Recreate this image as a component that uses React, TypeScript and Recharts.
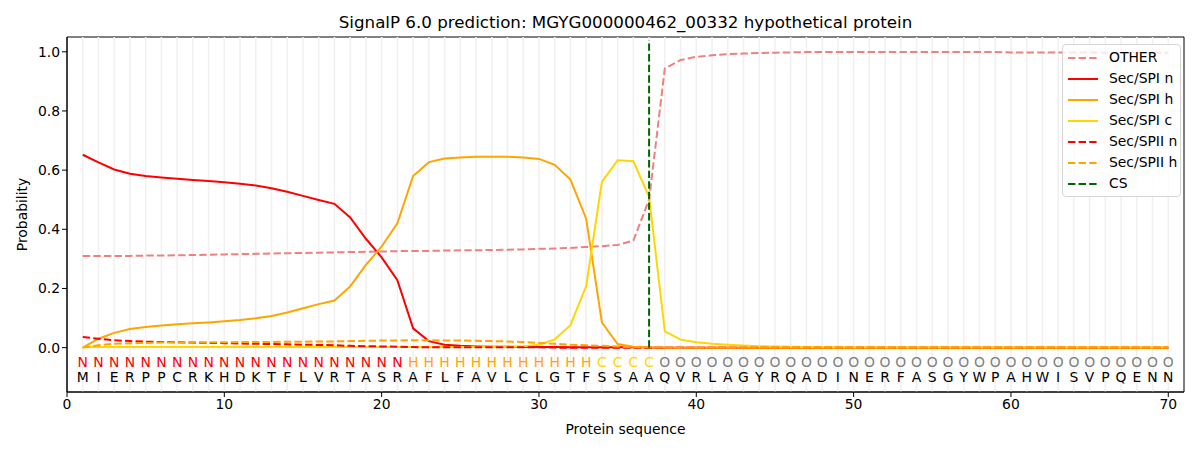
import React from 'react'
import { ComposedChart, Line, XAxis, YAxis, ReferenceLine, ReferenceArea } from 'recharts'

// sequence and per-residue region letters
const residues = 'MIERPPCRKHDKTFLVRTASRAFLFAVLCLGTFSSAAQVRLAGYRQADINERFASGYWPAHWISVPQENN'.split('')
const regions = 'NNNNNNNNNNNNNNNNNNNNNHHHHHHHHHHHHCCCCOOOOOOOOOOOOOOOOOOOOOOOOOOOOOOOOO'.split('')

const otherProb = [
  0.310, 0.310, 0.310, 0.310, 0.311, 0.311, 0.312, 0.313, 0.314, 0.315,
  0.316, 0.317, 0.318, 0.319, 0.320, 0.321, 0.322, 0.323, 0.324, 0.325,
  0.326, 0.327, 0.327, 0.328, 0.329, 0.329, 0.330, 0.331, 0.332, 0.334,
  0.335, 0.337, 0.340, 0.343, 0.347, 0.362, 0.500, 0.944, 0.972, 0.983,
  0.988, 0.992, 0.994, 0.996, 0.997, 0.998, 0.999, 0.999, 0.999, 0.999,
  0.999, 0.999, 0.999, 0.999, 0.999, 0.999, 0.999, 0.999, 0.999, 0.998,
  0.998, 0.998, 0.998, 0.998, 0.998, 0.997, 0.997, 0.997, 0.997, 0.997,
]
const spiN = [
  0.652, 0.626, 0.602, 0.588, 0.580, 0.575, 0.571, 0.567, 0.563, 0.559,
  0.554, 0.548, 0.539, 0.527, 0.513, 0.499, 0.486, 0.440, 0.368, 0.305,
  0.228, 0.065, 0.022, 0.010, 0.006, 0.004, 0.003, 0.003, 0.002, 0.002,
  0.002, 0.001, 0.001, 0.001, 0.001, 0.001, 0.000, 0.000, 0.000, 0.000,
  0.000, 0.000, 0.000, 0.000, 0.000, 0.000, 0.000, 0.000, 0.000, 0.000,
  0.000, 0.000, 0.000, 0.000, 0.000, 0.000, 0.000, 0.000, 0.000, 0.000,
  0.000, 0.000, 0.000, 0.000, 0.000, 0.000, 0.000, 0.000, 0.000, 0.000,
]
const spiH = [
  0.000, 0.030, 0.050, 0.063, 0.070, 0.075, 0.079, 0.082, 0.085, 0.089,
  0.093, 0.099, 0.107, 0.119, 0.133, 0.147, 0.159, 0.207, 0.280, 0.342,
  0.420, 0.580, 0.627, 0.639, 0.643, 0.645, 0.645, 0.645, 0.643, 0.638,
  0.618, 0.568, 0.436, 0.085, 0.012, 0.003, 0.001, 0.000, 0.000, 0.000,
  0.000, 0.000, 0.000, 0.000, 0.000, 0.000, 0.000, 0.000, 0.000, 0.000,
  0.000, 0.000, 0.000, 0.000, 0.000, 0.000, 0.000, 0.000, 0.000, 0.000,
  0.000, 0.000, 0.000, 0.000, 0.000, 0.000, 0.000, 0.000, 0.000, 0.000,
]
const spiC = [
  0.001, 0.002, 0.002, 0.002, 0.002, 0.002, 0.002, 0.002, 0.002, 0.002,
  0.002, 0.002, 0.002, 0.002, 0.002, 0.002, 0.002, 0.002, 0.002, 0.002,
  0.002, 0.002, 0.002, 0.002, 0.002, 0.002, 0.002, 0.002, 0.005, 0.010,
  0.028, 0.076, 0.208, 0.560, 0.633, 0.630, 0.510, 0.055, 0.027, 0.018,
  0.013, 0.010, 0.007, 0.005, 0.004, 0.003, 0.002, 0.002, 0.001, 0.001,
  0.001, 0.001, 0.001, 0.001, 0.001, 0.001, 0.001, 0.001, 0.001, 0.001,
  0.001, 0.001, 0.001, 0.001, 0.001, 0.001, 0.001, 0.001, 0.001, 0.001,
]
const spiiN = [
  0.036, 0.030, 0.025, 0.022, 0.020, 0.019, 0.018, 0.017, 0.016, 0.015,
  0.014, 0.013, 0.012, 0.011, 0.010, 0.009, 0.008, 0.006, 0.005, 0.004,
  0.003, 0.002, 0.001, 0.001, 0.001, 0.001, 0.001, 0.001, 0.001, 0.001,
  0.000, 0.000, 0.000, 0.000, 0.000, 0.000, 0.000, 0.000, 0.000, 0.000,
  0.000, 0.000, 0.000, 0.000, 0.000, 0.000, 0.000, 0.000, 0.000, 0.000,
  0.000, 0.000, 0.000, 0.000, 0.000, 0.000, 0.000, 0.000, 0.000, 0.000,
  0.000, 0.000, 0.000, 0.000, 0.000, 0.000, 0.000, 0.000, 0.000, 0.000,
]
const spiiH = [
  0.000, 0.008, 0.013, 0.015, 0.016, 0.017, 0.017, 0.018, 0.018, 0.018,
  0.019, 0.019, 0.019, 0.020, 0.020, 0.021, 0.021, 0.022, 0.023, 0.024,
  0.024, 0.025, 0.025, 0.024, 0.024, 0.023, 0.022, 0.021, 0.019, 0.016,
  0.013, 0.010, 0.008, 0.006, 0.004, 0.002, 0.001, 0.000, 0.000, 0.000,
  0.000, 0.000, 0.000, 0.000, 0.000, 0.000, 0.000, 0.000, 0.000, 0.000,
  0.000, 0.000, 0.000, 0.000, 0.000, 0.000, 0.000, 0.000, 0.000, 0.000,
  0.000, 0.000, 0.000, 0.000, 0.000, 0.000, 0.000, 0.000, 0.000, 0.000,
]

const csPos = 37
const xTicks = [0, 10, 20, 30, 40, 50, 60, 70]
const yTicks = [0, 0.2, 0.4, 0.6, 0.8, 1.0]

const regionColor: Record<string, string> = { N: '#ff0000', H: '#ffa500', C: '#ffd700', O: '#808080' }

const FONT = '"DejaVu Sans", sans-serif'
const DASH = '7.4 3.2'

const rows = residues.map((aa, i) => ({
  pos: i + 1,
  aa,
  region: regions[i],
  other: otherProb[i],
  spiN: spiN[i],
  spiH: spiH[i],
  spiC: spiC[i],
  spiiN: spiiN[i],
  spiiH: spiiH[i],
  regionRow: -0.05,
  aaRow: -0.1,
}))

const legendItems = [
  { name: 'OTHER', color: '#f08080', dash: true },
  { name: 'Sec/SPI n', color: '#ff0000', dash: false },
  { name: 'Sec/SPI h', color: '#ffa500', dash: false },
  { name: 'Sec/SPI c', color: '#ffd700', dash: false },
  { name: 'Sec/SPII n', color: '#ff0000', dash: true },
  { name: 'Sec/SPII h', color: '#ffa500', dash: true },
  { name: 'CS', color: '#006400', dash: true },
]

function LegendBox() {
  return (
    <div
      style={{
        position: 'absolute',
        left: 1062,
        top: 44,
        width: 119,
        boxSizing: 'border-box',
        border: '1px solid #d6d6d6',
        borderRadius: 4,
        background: 'rgba(255,255,255,0.8)',
        padding: '2px 0 2px 5px',
        fontFamily: FONT,
        fontSize: 13.9,
        lineHeight: '21px',
      }}
    >
      {legendItems.map((it) => (
        <div key={it.name} style={{ display: 'flex', alignItems: 'center', whiteSpace: 'nowrap' }}>
          <svg width={30} height={10} style={{ marginRight: 11, flex: 'none' }}>
            <line x1={0} y1={5} x2={30} y2={5} stroke={it.color} strokeWidth={2} strokeDasharray={it.dash ? DASH : undefined} />
          </svg>
          <span>{it.name}</span>
        </div>
      ))}
    </div>
  )
}

const textDot = (key: 'region' | 'aa') => (p: any) => {
  const ch = p.payload[key]
  return (
    <text
      key={`${key}-${p.index}`}
      x={p.cx}
      y={p.cy}
      textAnchor="middle"
      dominantBaseline="central"
      fontFamily={FONT}
      fontSize={13.9}
      fill={key === 'region' ? regionColor[ch] : '#000'}
    >
      {ch}
    </text>
  )
}

export default function App() {
  return (
    <div style={{ position: 'absolute', left: 0, top: 0, width: 1200, height: 450, background: '#fff' }}>
      <div
        style={{
          position: 'absolute',
          left: 67,
          width: 1117,
          top: 12,
          textAlign: 'center',
          fontFamily: FONT,
          fontSize: 16.7,
        }}
      >
        SignalP 6.0 prediction: MGYG000000462_00332 hypothetical protein
      </div>
      <ComposedChart width={1200} height={450} data={rows} margin={{ top: 37, right: 16, bottom: 13, left: 7 }}>
        {rows.map((r) => (
          <ReferenceLine key={r.pos} x={r.pos} stroke="#f0f0f0" strokeWidth={1.5} />
        ))}
        <XAxis
          dataKey="pos"
          type="number"
          domain={[0, 71]}
          ticks={xTicks}
          height={45}
          tickSize={5}
          stroke="#000"
          tick={{ fill: '#000', fontSize: 13.9, fontFamily: FONT }}
          label={{ value: 'Protein sequence', position: 'insideBottom', offset: 3, fill: '#000', fontSize: 13.9, fontFamily: FONT }}
        />
        <YAxis
          type="number"
          domain={[-0.15, 1.05]}
          ticks={yTicks}
          width={60}
          tickSize={5}
          stroke="#000"
          tickFormatter={(v: number) => v.toFixed(1)}
          tick={{ fill: '#000', fontSize: 13.9, fontFamily: FONT }}
          label={{
            content: (props: any) => {
              const vb = props.viewBox
              const cx = 22
              const cy = vb.y + vb.height / 2
              return (
                <text x={cx} y={cy} transform={`rotate(-90 ${cx} ${cy})`} textAnchor="middle" dominantBaseline="central" fontFamily={FONT} fontSize={13.9} fill="#000">
                  Probability
                </text>
              )
            },
          }}
        />
        <Line dataKey="other" stroke="#f08080" strokeWidth={2} strokeDasharray={DASH} dot={false} activeDot={false} isAnimationActive={false} />
        <Line dataKey="spiN" stroke="#ff0000" strokeWidth={2} dot={false} activeDot={false} isAnimationActive={false} />
        <Line dataKey="spiH" stroke="#ffa500" strokeWidth={2} dot={false} activeDot={false} isAnimationActive={false} />
        <Line dataKey="spiC" stroke="#ffd700" strokeWidth={2} dot={false} activeDot={false} isAnimationActive={false} />
        <Line dataKey="spiiN" stroke="#ff0000" strokeWidth={2} strokeDasharray={DASH} dot={false} activeDot={false} isAnimationActive={false} />
        <Line dataKey="spiiH" stroke="#ffa500" strokeWidth={2} strokeDasharray={DASH} dot={false} activeDot={false} isAnimationActive={false} />
        <ReferenceLine
          segment={[{ x: csPos, y: 0 }, { x: csPos, y: 1.04 }]}
          stroke="#006400"
          strokeWidth={2}
          strokeDasharray={DASH}
        />
        <Line dataKey="regionRow" stroke="none" dot={textDot('region')} activeDot={false} legendType="none" isAnimationActive={false} />
        <Line dataKey="aaRow" stroke="none" dot={textDot('aa')} activeDot={false} legendType="none" isAnimationActive={false} />
        <ReferenceArea x1={0} x2={71} y1={-0.15} y2={1.05} stroke="#000" strokeWidth={1} fill="none" fillOpacity={0} ifOverflow="visible" />
      </ComposedChart>
      <LegendBox />
    </div>
  )
}
